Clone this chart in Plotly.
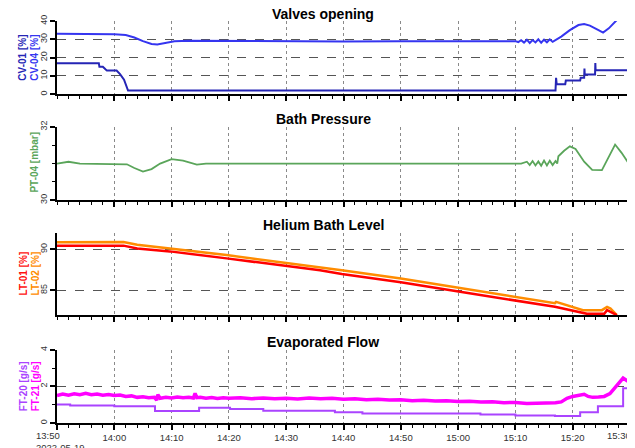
import plotly.graph_objects as go
from datetime import datetime, timedelta

BASE = datetime(2022, 5, 19, 13, 50)

# ---- data (minutes after 13:50, values) ----
cv01_min = [0, 5, 10, 12, 13.5, 15, 16.5, 17.5, 19, 20.5, 23, 30, 40, 50, 60, 70, 80,
            80.5, 81, 81.5, 82, 82.5, 83, 83.5, 84, 84.5, 85, 85.5, 86, 86.5, 87,
            88, 89.5, 91, 92, 93, 94.5, 95.3, 96.3, 97.4, 98]
cv01_val = [33, 33, 32.8, 32.3, 31, 29, 27.5, 27.2, 28, 29, 29.2, 29, 29, 28.8, 29, 29, 29,
            28.5, 29.5, 28.2, 29.8, 28, 29.6, 28.3, 30, 28.1, 29.8, 28.4, 30, 28.6, 29.5,
            31.5, 35, 37.8, 38.3, 37.5, 35, 33.7, 36, 40, 41.5]

cv04_min = [0, 7.3, 7.4, 8, 8.5, 8.7, 10.4, 11, 11.7, 12.1, 12.4, 87, 87.1, 87.2, 88.7, 88.8,
            91.3, 91.4, 92, 92.05, 92.1, 93.9, 93.95, 94, 100]
cv04_val = [17, 17, 15, 15, 13.5, 13, 13, 11, 8, 4, 2, 2, 9, 5.5, 5.5, 7.5,
            7.5, 9, 9, 14, 10.8, 10.8, 17, 13.1, 13.1]

pt04_min = [0, 2, 4, 10, 12.2, 13.5, 15, 16.5, 18, 20, 22, 24.4, 26, 40, 50, 60, 70, 81,
            82, 82.5, 83, 83.5, 84, 84.5, 85, 85.5, 86, 86.5, 87, 87.3,
            87.5, 88.5, 89.5, 90.5, 92, 93.4, 95.1, 96.3, 97.4, 98.5, 100]
pt04_val = [31.0, 31.05, 31.0, 31.0, 30.98, 30.88, 30.78, 30.85, 31.0, 31.12, 31.08, 30.97, 31.0,
            31.0, 31.0, 31.0, 31.0, 31.0,
            31.05, 30.96, 31.07, 30.95, 31.06, 30.94, 31.08, 30.95, 31.08, 30.96, 31.07, 31.0,
            31.2, 31.35, 31.47, 31.4, 31.05, 30.83, 30.82, 31.2, 31.52, 31.3, 30.95]

lt02_min = [0, 5, 11.6, 14, 19.7, 29.6, 35, 45.9, 49.7, 60, 69.8, 80, 86.9, 87.1, 91.8, 95.1, 96, 96.6, 97.7]
lt02_val = [90.85, 90.9, 90.9, 90.55, 90.1, 89.3, 88.8, 87.85, 87.45, 86.45, 85.36, 84.2, 83.45,
            83.6, 82.6, 82.6, 83.0, 82.8, 82.0]

lt01_min = [0, 11.6, 14, 19.7, 29.6, 35, 45.9, 49.7, 60, 69.8, 80, 86.9, 92.5, 95.5, 96.0, 96.5, 97.7]
lt01_val = [90.45, 90.45, 90.1, 89.75, 88.9, 88.4, 87.45, 87.0, 86.0, 84.9, 83.75, 83.0, 82.15,
            82.15, 82.6, 82.4, 82.0]

ft21_min = [0, 1, 2, 3, 4, 5, 6, 7, 8, 9, 10, 11, 12, 13, 14, 15, 16, 17, 17.4, 17.6, 18, 19,
            20, 21, 22, 23, 23.8, 24.1, 24.4, 25, 26, 27, 28, 29, 30, 32, 34, 36, 38, 40, 42,
            44, 46, 48, 50, 52, 54, 56, 58, 60, 62, 64, 66, 68, 70, 72, 74, 76, 78, 80, 82,
            84, 86, 87, 88, 89, 90, 91, 92, 92.7, 93.5, 94.5, 95.5, 96.5, 97.5, 98.3, 98.8,
            99.3, 100]
ft21_val = [1.5, 1.58, 1.52, 1.6, 1.55, 1.62, 1.54, 1.58, 1.52, 1.56, 1.5, 1.53, 1.45, 1.48,
            1.4, 1.43, 1.38, 1.4, 1.25, 1.55, 1.35, 1.4, 1.36, 1.42, 1.38, 1.4, 1.36, 1.62,
            1.38, 1.4, 1.35, 1.39, 1.34, 1.38, 1.35, 1.38, 1.33, 1.37, 1.32, 1.35, 1.31, 1.36,
            1.33, 1.35, 1.3, 1.32, 1.27, 1.29, 1.25, 1.27, 1.22, 1.24, 1.2, 1.22, 1.18, 1.19,
            1.14, 1.16, 1.11, 1.12, 1.07, 1.08, 1.05, 1.1, 1.15, 1.35, 1.45, 1.5, 1.57, 1.45,
            1.4, 1.42, 1.45, 1.6, 2.0, 2.3, 2.45, 2.35, 2.2]

ft20_min = [0, 2.3, 10, 17.1, 24.8, 30.2, 36, 48.5, 53.3, 73.9, 80, 86.9, 91.3, 94.4, 98.8, 100]
ft20_val = [1.01, 0.95, 0.92, 0.65, 0.83, 0.77, 0.67, 0.59, 0.52, 0.47, 0.41, 0.38, 0.59, 0.92, 1.9, 1.9]

x_tick_min = [0, 10, 20, 30, 40, 50, 60, 70, 80, 90, 100]
x_tick_text = ["", "14:00", "14:10", "14:20", "14:30", "14:40", "14:50", "15:00", "15:10", "15:20", ""]
first_tick_label = "13:50<br>2022-05-19"
last_tick_label = "15:30"

panel_titles = ["Valves opening", "Bath Pressure", "Helium Bath Level", "Evaporated Flow"]


def t(mins):
    return [BASE + timedelta(minutes=m) for m in mins]


fig = go.Figure()
fig.add_trace(go.Scatter(x=t(cv01_min), y=cv01_val, mode="lines", line=dict(color="#3535f0", width=2),
                         xaxis="x", yaxis="y"))
fig.add_trace(go.Scatter(x=t(cv04_min), y=cv04_val, mode="lines", line=dict(color="#2525b5", width=2),
                         xaxis="x", yaxis="y"))
fig.add_trace(go.Scatter(x=t(pt04_min), y=pt04_val, mode="lines", line=dict(color="#5aa55a", width=1.8),
                         xaxis="x2", yaxis="y2"))
fig.add_trace(go.Scatter(x=t(lt02_min), y=lt02_val, mode="lines", line=dict(color="#ff8c00", width=2.5),
                         xaxis="x3", yaxis="y3"))
fig.add_trace(go.Scatter(x=t(lt01_min), y=lt01_val, mode="lines", line=dict(color="#ff0000", width=2.5),
                         xaxis="x3", yaxis="y3"))
fig.add_trace(go.Scatter(x=t(ft21_min), y=ft21_val, mode="lines", line=dict(color="#ff00ff", width=3.5),
                         xaxis="x4", yaxis="y4"))
fig.add_trace(go.Scatter(x=t(ft20_min), y=ft20_val, mode="lines", line=dict(color="#aa44ff", width=2, shape="hv"),
                         xaxis="x4", yaxis="y4"))

# page body has an 8px margin: lay the figure out in page pixels, then shift
OFF = 8
FIG_W, FIG_H = 635 - OFF, 448 - OFF
PLOT_L, PLOT_R, PLOT_T, PLOT_B = 57, 630, 21, 427   # page pixels
M_L = PLOT_L - OFF
M_T = PLOT_T - OFF
M_R = FIG_W - (PLOT_R - OFF)
M_B = FIG_H - (PLOT_B - OFF)
PH = PLOT_B - PLOT_T
PW = PLOT_R - PLOT_L


def py(pix):
    return (PLOT_B - pix) / PH


def px(pix):
    return (pix - PLOT_L) / PW


def xax(anchor, labels):
    d = dict(type="date", range=[BASE, BASE + timedelta(minutes=100)], anchor=anchor,
             showgrid=True, gridcolor="#8a8a8a", griddash="dot", gridwidth=1,
             showline=True, linecolor="black", linewidth=1.5, zeroline=False,
             ticks="outside", ticklen=5, tickwidth=1.5, tickcolor="black",
             tickmode="array", tickvals=t(x_tick_min), ticktext=x_tick_text,
             minor=dict(dtick=120000, tick0=BASE, ticks="outside", ticklen=3, tickwidth=1,
                        tickcolor="black", showgrid=False),
             showticklabels=labels, tickfont=dict(family="Liberation Sans", size=9.5, color="#333"),
             domain=[0, 1])
    if anchor != "y":
        d["matches"] = "x"
    return d


def yax(anchor, dom, rng, tickvals, minor=None):
    d = dict(anchor=anchor, domain=dom, range=rng, tickmode="array", tickvals=tickvals,
             showgrid=True, gridcolor="#555", griddash="dash", gridwidth=1,
             showline=True, linecolor="black", linewidth=1.5, zeroline=False,
             ticks="outside", ticklen=5, tickwidth=1.5, tickcolor="black", tickangle=-90,
             tickfont=dict(family="Liberation Sans", size=9, color="#333"))
    if minor:
        d["minor"] = dict(dtick=minor, ticks="outside", ticklen=3, tickwidth=1, tickcolor="black",
                          showgrid=False)
    return d


fig.update_layout(
    width=FIG_W, height=FIG_H, showlegend=False,
    margin=dict(l=M_L, r=M_R, t=M_T, b=M_B),
    paper_bgcolor="white", plot_bgcolor="white",
    xaxis=xax("y", False), xaxis2=xax("y2", False), xaxis3=xax("y3", False), xaxis4=xax("y4", True),
    yaxis=yax("x", [py(95), 1.0], [0, 40], [0, 10, 20, 30, 40]),
    yaxis2=yax("x2", [py(202), py(128)], [30, 32], [30, 32], 0.5),
    yaxis3=yax("x3", [py(318), py(235)], [82, 92], [85, 90]),
    yaxis4=yax("x4", [0, py(353)], [0, 4], [0, 2, 4], 1),
)

anns = []
for title, ypix in zip(panel_titles, [13.5, 120, 227, 345]):
    anns.append(dict(text="<b>%s</b>" % title, xref="paper", yref="paper", x=px(323), y=py(ypix),
                     xanchor="center", yanchor="middle", showarrow=False,
                     font=dict(family="Liberation Sans", size=14, color="black")))

labels = [("CV-01 [%]", "#2525b5", 23, 58), ("CV-04 [%]", "#3535f0", 35, 58),
          ("PT-04 [mbar]", "#5aa55a", 35, 164),
          ("LT-01 [%]", "#ff1010", 23, 276), ("LT-02 [%]", "#ff8c00", 35, 276),
          ("FT-20 [g/s]", "#aa44ff", 23, 390), ("FT-21 [g/s]", "#ff00ff", 35, 390)]
for txt, col, xp, ypx in labels:
    anns.append(dict(text="<b>%s</b>" % txt, xref="paper", yref="paper", x=px(xp), y=py(ypx),
                     xanchor="center", yanchor="middle", textangle=-90, showarrow=False,
                     font=dict(family="Liberation Sans", size=10, color=col)))

anns.append(dict(text=first_tick_label, xref="paper", yref="paper", x=px(34), y=py(432),
                 xanchor="left", yanchor="top", align="left", showarrow=False,
                 font=dict(family="Liberation Sans", size=9.5, color="#333")))
anns.append(dict(text=last_tick_label, xref="paper", yref="paper", x=px(633), y=py(432),
                 xanchor="right", yanchor="top", showarrow=False,
                 font=dict(family="Liberation Sans", size=9.5, color="#333")))
fig.update_layout(annotations=anns)

fig.write_html("out.html")
